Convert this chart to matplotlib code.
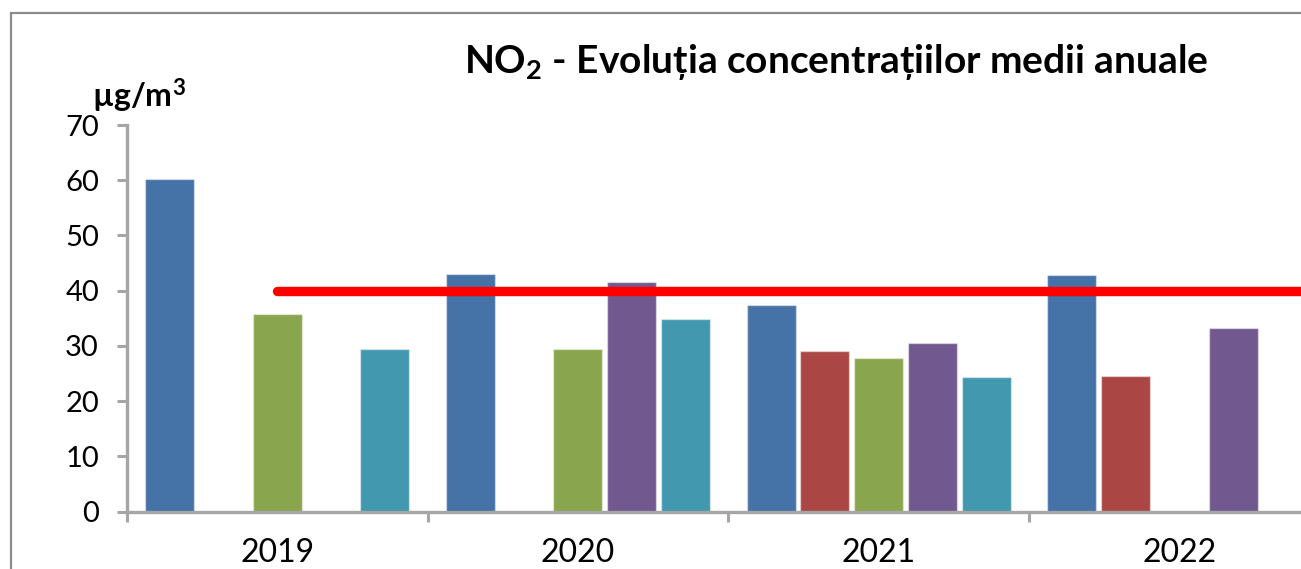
import numpy as np
import matplotlib
matplotlib.use("Agg")
import matplotlib.pyplot as plt
from matplotlib.patches import Rectangle

years = ["2019", "2020", "2021", "2022"]
nan = np.nan
s_blue = [60.2, 43.0, 37.4, 42.8]
s_red = [nan, nan, 29.1, 24.6]
s_green = [35.8, 29.4, 27.8, nan]
s_purple = [nan, 41.5, 30.5, 33.2]
s_teal = [29.5, 34.8, 24.3, nan]
limit_value = 40
yticks = [0, 10, 20, 30, 40, 50, 60, 70]

series = [s_blue, s_red, s_green, s_purple, s_teal]
colors = ["#4572A7", "#AA4643", "#89A54E", "#71588F", "#4198AF"]

plt.rcParams['font.family'] = ['Lato', 'DejaVu Sans']
plt.rcParams['mathtext.default'] = 'regular'

W, H = 1301, 569
fig = plt.figure(figsize=(W / 100, H / 100), dpi=100)

x_left, x_right = 126.7, 1330.0
y_bottom, y_top = 511.7, 125.0
ax = fig.add_axes([x_left / W, (H - y_bottom) / H, (x_right - x_left) / W, (y_bottom - y_top) / H])

x = np.arange(len(years))
slot = 0.1789
bw = 0.163
for k, (vals, c) in enumerate(zip(series, colors)):
    ax.bar(x + (k - 2) * slot, vals, width=bw, color=c,
           edgecolor=(1, 1, 1, 0.45), linewidth=1.0, zorder=2)

ax.plot([0, 3.6], [limit_value, limit_value], color="#FF0000", lw=6.8,
        solid_capstyle="round", zorder=3, clip_on=False)

ax.set_xlim(-0.5, 3.5)
ax.set_ylim(0, 70)
ax.set_yticks(yticks)
ax.set_yticklabels([str(v) for v in yticks], fontsize=21)
ax.set_xticks(x)
ax.set_xticklabels(years, fontsize=23)
ax.set_xticks([-0.5, 0.5, 1.5, 2.5, 3.5], minor=True)
ax.tick_params(axis='x', which='major', length=0, pad=19)
ax.tick_params(axis='x', which='minor', length=7, width=2.2, color="#A6A6A6", direction='out')
ax.tick_params(axis='y', length=7, width=2.2, color="#A6A6A6", direction='out', pad=13)

for s in ["top", "right"]:
    ax.spines[s].set_visible(False)
for s in ["left", "bottom"]:
    ax.spines[s].set_color("#A6A6A6")
    ax.spines[s].set_linewidth(2.4)

fig.patches.append(Rectangle((10.5 / W, -0.1), 1.2, (H - 13) / H + 0.1,
                             transform=fig.transFigure, fill=False,
                             edgecolor="#8C8C8C", linewidth=1.6))

fig.text(836.5 / W, (H - 73) / H, r"NO$_2$ - Evoluția concentrațiilor medii anuale",
         fontsize=28, fontweight='bold', ha='center', va='baseline')
fig.text(92 / W, (H - 108) / H, r"µg/m$^3$", fontsize=23, fontweight='bold',
         ha='left', va='baseline')

fig.savefig("out.png", dpi=100)
